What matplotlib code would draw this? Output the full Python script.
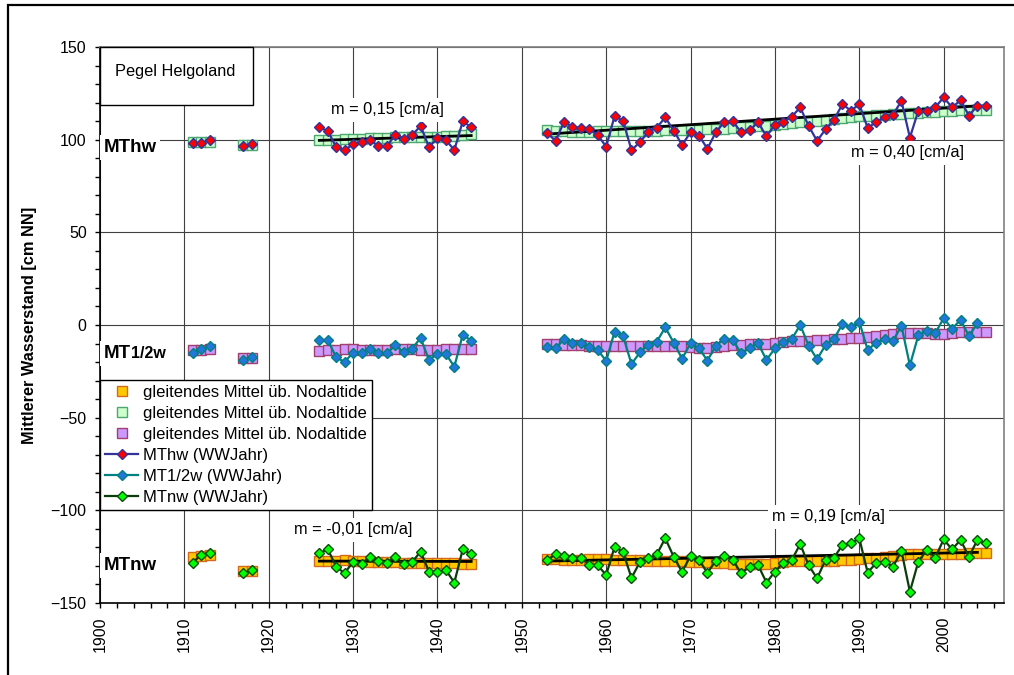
import matplotlib
matplotlib.use("Agg")
import matplotlib.pyplot as plt
import numpy as np
from matplotlib.patches import Rectangle
from matplotlib.ticker import MultipleLocator
from matplotlib.transforms import blended_transform_factory, offset_copy

plt.rcParams["font.family"] = ["Liberation Sans", "DejaVu Sans"]

years = ([1911, 1912, 1913, 1917, 1918]
         + list(range(1926, 1945)) + list(range(1953, 2006)))

mthw = [98.0, 98.0, 100.0, 96.8, 97.5,
        106.7, 104.7, 95.9, 94.4, 97.5, 98.7, 99.8, 96.6, 96.6, 102.5,
        100.5, 102.5, 107.4, 95.9, 100.9, 99.8, 94.4, 109.9, 106.7,
        103.4, 99.5, 109.4, 107.0, 106.1, 105.6, 102.5, 96.2,
        112.8, 110.1, 94.4, 98.6, 104.3, 106.5, 112.0, 104.9, 97.1, 104.0,
        102.2, 95.1, 104.1, 109.4, 109.9, 104.0, 105.0, 109.4, 101.8, 108.1,
        109.7, 112.4, 117.4, 107.4, 99.3, 105.6, 110.6, 119.2, 115.6, 119.1,
        106.3, 109.5, 112.1, 113.5, 120.9, 101.1, 115.6, 115.6, 117.4, 122.8,
        117.4, 121.2, 113.0, 118.3, 118.2]

mt12w = [-15.3, -13.0, -11.3, -18.9, -17.1,
         -8.1, -8.1, -17.5, -20.0, -14.9, -14.9, -12.8, -14.9, -15.3, -11.0,
         -14.6, -12.8, -7.0, -18.9, -15.6, -15.6, -22.5, -5.2, -8.5,
         -11.7, -12.6, -7.7, -9.5, -9.5, -11.7, -13.5, -19.4,
         -3.6, -5.9, -21.1, -14.8, -10.6, -9.0, -1.3, -9.5, -18.2, -9.9,
         -12.6, -19.2, -11.2, -7.4, -8.1, -15.3, -12.6, -9.9, -18.9, -12.6,
         -9.2, -7.6, 0.0, -11.2, -18.5, -10.8, -7.4, 0.4, -0.9, 1.8,
         -13.5, -9.5, -7.7, -8.5, -0.5, -21.8, -5.6, -3.1, -4.5, 3.6,
         -2.0, 2.7, -5.9, 0.9, np.nan]

mtnw = [-128.3, -123.9, -123.2, -134.0, -132.2,
        -123.2, -121.0, -130.4, -134.0, -127.7, -129.2, -125.0, -127.2, -128.3, -125.0,
        -129.2, -127.9, -122.3, -133.1, -133.1, -132.2, -139.0, -121.0, -123.8,
        -126.8, -123.8, -124.5, -125.6, -125.6, -129.3, -129.7, -134.9,
        -119.6, -122.5, -136.5, -127.9, -125.9, -123.8, -115.1, -125.0, -133.3, -124.5,
        -126.8, -133.7, -127.2, -124.5, -126.8, -134.0, -130.4, -129.5, -139.0, -133.1,
        -128.3, -126.8, -118.2, -129.7, -136.7, -126.8, -125.6, -118.7, -117.8, -115.1,
        -133.7, -128.3, -127.7, -130.4, -121.9, -143.9, -127.7, -121.4, -125.6, -115.7,
        -121.1, -116.0, -125.0, -116.0, -117.8]

# gleitendes Mittel ueber Nodaltide
ma_hw = [98.5, 98.5, 98.8, 97.2, 97.2,
         99.6, 99.8, 100.0, 100.3, 100.4, 100.6, 100.8, 100.9, 101.0, 101.2,
         101.5, 101.3, 101.2, 101.3, 101.5, 101.8, 102.2, 102.6, 103.0,
         105.0, 104.6, 104.4, 104.3, 104.2, 104.3, 104.4, 104.5, 104.6, 104.6,
         104.5, 104.6, 104.8, 104.9, 105.0, 105.0, 105.1, 105.2, 105.3, 105.5,
         105.7, 106.0, 106.3, 106.6, 106.9, 107.2, 107.6, 108.0, 108.5, 108.9,
         109.3, 109.8, 110.3, 110.8, 111.3, 111.7, 112.1, 112.5, 112.9, 113.2,
         113.5, 113.8, 114.0, 114.3, 114.6, 114.9, 115.1, 115.4, 115.6, 115.8,
         116.0, 116.1, 116.2]

ma_12w = [-13.5, -13.3, -13.2, -17.8, -17.8,
          -13.8, -13.6, -13.5, -13.2, -13.0, -13.3, -13.5, -13.6, -13.4, -13.2,
          -13.0, -13.2, -13.5, -13.6, -13.3, -13.2, -13.0, -13.1, -13.0,
          -10.0, -10.4, -10.8, -11.0, -11.0, -11.1, -11.2, -11.3, -11.2, -11.2,
          -11.3, -11.4, -11.4, -11.4, -11.5, -11.5, -11.6, -11.8, -12.2, -12.3,
          -11.8, -11.2, -10.8, -10.6, -10.5, -10.3, -10.0, -9.6, -9.2, -8.9,
          -8.6, -8.4, -8.2, -8.0, -7.8, -7.5, -7.1, -6.8, -6.5, -6.1,
          -5.6, -5.0, -4.5, -4.4, -4.4, -4.5, -4.6, -4.6, -4.2, -4.0,
          -4.0, -3.9, -3.8]

ma_nw = [-125.0, -124.6, -124.3, -133.0, -133.0,
         -127.5, -127.3, -127.2, -127.0, -127.3, -127.5, -127.8, -128.0, -128.0, -127.8,
         -128.2, -128.5, -128.3, -128.5, -128.5, -128.6, -128.6, -128.8, -128.8,
         -126.3, -126.5, -126.8, -126.7, -126.6, -126.5, -126.5, -126.5, -126.6, -126.8,
         -126.8, -127.0, -127.2, -127.3, -127.4, -127.5, -127.6, -127.7, -127.9, -128.1,
         -128.2, -128.3, -128.7, -129.0, -129.2, -129.0, -128.7, -128.3, -127.9, -127.5,
         -127.4, -127.4, -127.4, -127.5, -127.4, -127.0, -126.7, -126.3, -125.9, -125.6,
         -125.1, -124.6, -124.1, -123.8, -123.6, -123.7, -123.8, -123.8, -123.8, -123.6,
         -123.2, -122.9, -122.9]

# Trendlinien (Anfangs-/Endjahr und Wert)
trend_hw_early = ([1926, 1944], [99.6, 102.2])
trend_hw_late = ([1953, 2004], [103.0, 118.2])
trend_nw_early = ([1926, 1944], [-127.4, -127.6])
trend_nw_late = ([1953, 2004], [-127.4, -122.7])

trend_labels = [("m = 0,15 [cm/a]", 1934.1, 116.0),
                ("m = 0,40 [cm/a]", 1995.7, 92.8),
                ("m = -0,01 [cm/a]", 1930.0, -110.6),
                ("m = 0,19 [cm/a]", 1986.4, -103.6)]

MA_LABEL = "gleitendes Mittel üb. Nodaltide"


def with_gaps(x, y):
    x = np.asarray(x, float)
    y = np.asarray(y, float)
    idx = np.where(np.diff(x) > 1)[0] + 1
    return np.insert(x, idx, np.nan), np.insert(y, idx, np.nan)


def main():
    fig = plt.figure(figsize=(10.14, 6.75), dpi=100)
    ax = fig.add_axes([0.0986, 0.1067, 0.8915, 0.8237])

    # Moving averages (squares)
    sq = dict(ls="none", marker="s", ms=7.2, mew=1.0, zorder=3)
    h_ma_nw, = ax.plot(years, ma_nw, mfc="#FFC800", mec="#D2691E", label=MA_LABEL, **sq)
    h_ma_hw, = ax.plot(years, ma_hw, mfc="#CCFFCC", mec="#4CA870", label=MA_LABEL, **sq)
    h_ma_12, = ax.plot(years, ma_12w, mfc="#CC99FF", mec="#A0406E", label=MA_LABEL, **sq)

    for tx, ty in (trend_hw_early, trend_hw_late, trend_nw_early, trend_nw_late):
        ax.plot(tx, ty, color="black", lw=2.0, zorder=4)

    dm = dict(marker="D", ms=5.1, mew=1.0, lw=1.6, zorder=5)
    x, y = with_gaps(years, mthw)
    h_hw, = ax.plot(x, y, color="#333399", mfc="#FF0000", mec="#333399", label="MThw (WWJahr)", **dm)
    x, y = with_gaps(years, mt12w)
    h_12, = ax.plot(x, y, color="#008080", mfc="#2277DD", mec="#008080", label="MT1/2w (WWJahr)", **dm)
    x, y = with_gaps(years, mtnw)
    h_nw, = ax.plot(x, y, color="#0B3D0B", mfc="#00FF00", mec="#0B4D0B", label="MTnw (WWJahr)", **dm)

    ax.set_xlim(1900, 2007.15)
    ax.set_ylim(-150, 150)
    ax.xaxis.set_major_locator(MultipleLocator(10))
    ax.xaxis.set_minor_locator(MultipleLocator(2))
    ax.yaxis.set_major_locator(MultipleLocator(50))
    ax.yaxis.set_minor_locator(MultipleLocator(10))
    ax.tick_params(which="both", direction="out", length=3.6, width=1.0, labelsize=11.5)
    ax.tick_params(axis="x", which="major", pad=6, labelrotation=90)
    ax.tick_params(axis="y", which="major", pad=6)
    ax.grid(which="major", color="#404040", lw=0.8)
    ax.set_axisbelow(True)
    for side in ("top", "right"):
        ax.spines[side].set_color("#808080")
        ax.spines[side].set_linewidth(1.2)
    for side in ("left", "bottom"):
        ax.spines[side].set_linewidth(1.2)

    ax.set_ylabel("Mittlerer Wasserstand [cm NN]", fontsize=11.8, fontweight="bold")
    ax.yaxis.set_label_coords(-0.0697, 0.5)

    for txt, xv, yv in trend_labels:
        ax.text(xv, yv, txt, fontsize=11.8, ha="center", va="center", zorder=6,
                bbox=dict(boxstyle="square,pad=0.25", fc="white", ec="none"))

    trans = blended_transform_factory(ax.transAxes, ax.transData)
    box = dict(boxstyle="square,pad=0.2", fc="white", ec="none")
    ax.text(0.004, 93.3, "MThw", transform=trans, fontsize=13.5, fontweight="bold",
            va="baseline", zorder=6, bbox=box)
    ax.text(0.004, -132.2, "MTnw", transform=trans, fontsize=13.5, fontweight="bold",
            va="baseline", zorder=6, bbox=box)
    ax.text(0.004, -17.8, "MT", transform=trans, fontsize=13.5, fontweight="bold",
            va="baseline", zorder=6, bbox=box)
    ax.text(0.004, -17.8, "1/2w", transform=offset_copy(trans, fig=fig, x=19.7, y=0, units="points"),
            fontsize=11.5, fontweight="bold", va="baseline", zorder=6)

    ax.add_patch(Rectangle((0, 0.896), 0.169, 0.104, transform=ax.transAxes, fc="white",
                           ec="black", lw=1.0, zorder=6, clip_on=False))
    ax.text(0.083, 0.955, "Pegel Helgoland", transform=ax.transAxes, fontsize=11.8,
            ha="center", va="center", zorder=7)

    leg = ax.legend(handles=[h_ma_nw, h_ma_hw, h_ma_12, h_hw, h_12, h_nw],
                    loc="upper left", bbox_to_anchor=(0, 0.401), borderaxespad=0,
                    fontsize=12, frameon=True, fancybox=False, framealpha=1,
                    edgecolor="black", borderpad=0.3, labelspacing=0.36,
                    handlelength=2.0, handletextpad=0.3)
    leg.get_frame().set_linewidth(1.0)
    leg.set_zorder(10)

    fig.patches.append(Rectangle((0.008, -0.1), 1.2, 1.0919, transform=fig.transFigure,
                                 fill=False, ec="black", lw=1.6))

    fig.savefig("out.png", dpi=100)
    return fig


if __name__ == "__main__":
    main()
